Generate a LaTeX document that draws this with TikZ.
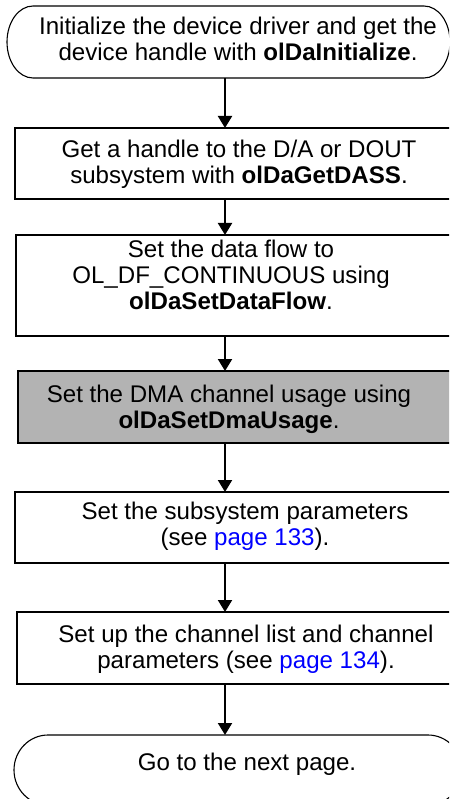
\documentclass[tikz,border=0pt]{standalone}
\usepackage{fontspec}
\setmainfont{Liberation Sans}
\usetikzlibrary{arrows.meta}
\definecolor{stepgray}{RGB}{179,179,179}
\definecolor{linkblue}{RGB}{0,0,255}
\begin{document}
\begin{tikzpicture}[x=1pt,y=-1pt,
  stepbox/.style={draw,line width=2pt,rectangle,inner sep=0pt,outer sep=0pt,anchor=north west},
  termbox/.style={rectangle,inner sep=0pt,outer sep=0pt,anchor=north west},
  term/.style={line width=1.1pt},
  steptext/.style={font=\fontsize{24.1}{25.8}\selectfont,align=center,inner sep=0pt},
  flow/.style={line width=2pt,-{Triangle[width=14pt,length=12pt]}}]

\useasboundingbox (0,0) rectangle (449,799);
\clip (0,0) rectangle (449,799);

% start terminal
\node[termbox,minimum width=443pt,minimum height=72pt] (t1) at (7,6) {};
\draw[term] ([xshift=26pt]t1.north west) -- ([xshift=-26pt]t1.north east)
  arc[start angle=90,end angle=-90,x radius=26pt,y radius=36pt]
  -- ([xshift=26pt]t1.south west)
  arc[start angle=270,end angle=90,x radius=26pt,y radius=36pt] -- cycle;
\node[steptext] (t1text) at (238,39)
  {Initialize the device driver and get the\\device handle with \textbf{olDaInitialize}.};

% process steps
\node[stepbox,minimum width=455pt,minimum height=71pt] (b2) at (15,128) {};
\node[steptext] (b2text) at (239,164)
  {Get a handle to the D/A or DOUT\\subsystem with \textbf{olDaGetDASS}.};

\node[stepbox,minimum width=454pt,minimum height=101pt] (b3) at (16,235) {};
\node[steptext] (b3text) at (231,275)
  {Set the data flow to\\OL\_DF\_CONTINUOUS using\\\textbf{olDaSetDataFlow}.};

\node[stepbox,fill=stepgray,minimum width=452pt,minimum height=72pt] (b4) at (18,371) {};
\node[steptext] (b4text) at (229,409)
  {Set the DMA channel usage using\\\textbf{olDaSetDmaUsage}.};

\node[stepbox,minimum width=455pt,minimum height=71pt] (b5) at (15,492) {};
\node[steptext] (b5text) at (245,526)
  {Set the subsystem parameters\\(see \textcolor{linkblue}{page 133}).};

\node[stepbox,minimum width=453pt,minimum height=72pt] (b6) at (17,612) {};
\node[steptext] (b6text) at (246,649)
  {Set up the channel list and channel\\parameters (see \textcolor{linkblue}{page 134}).};

% end terminal
\node[termbox,minimum width=448pt,minimum height=70pt] (t2) at (14,735) {};
\draw[term] ([xshift=34pt]t2.north west) -- ([xshift=-34pt]t2.north east)
  arc[start angle=90,end angle=-90,x radius=34pt,y radius=35pt]
  -- ([xshift=34pt]t2.south west)
  arc[start angle=270,end angle=90,x radius=34pt,y radius=35pt] -- cycle;
\node[steptext] (t2text) at (247,764) {Go to the next page.};

% connectors
\coordinate (col) at (225,0);
\draw[flow] (t1.south -| col) -- (b2.north -| col);
\draw[flow] (b2.south -| col) -- (b3.north -| col);
\draw[flow] (b3.south -| col) -- (b4.north -| col);
\draw[flow] (b4.south -| col) -- (b5.north -| col);
\draw[flow] (b5.south -| col) -- (b6.north -| col);
\draw[flow] (b6.south -| col) -- (t2.north -| col);
\end{tikzpicture}
\end{document}
